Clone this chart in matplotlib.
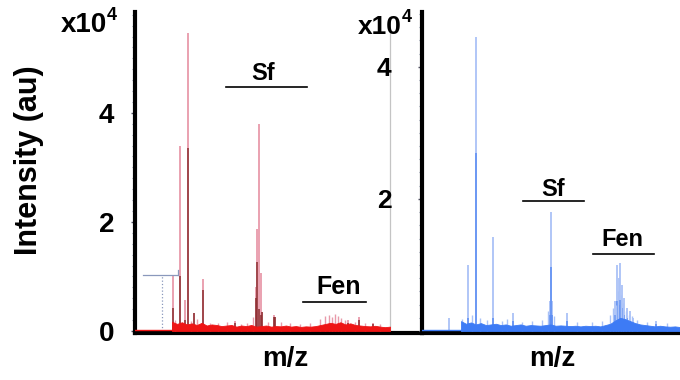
import matplotlib.pyplot as plt
import numpy as np
from matplotlib.ticker import MultipleLocator

plt.rcParams["font.family"] = ["Liberation Sans", "DejaVu Sans"]
plt.rcParams["font.weight"] = "bold"

# left spectrum (red), intensities in counts, m/z in arbitrary units
left_peak_mz = [880, 950, 1000, 1030, 1090, 1180, 1500, 1710, 1720, 1740, 1760, 1770, 1890, 1900, 2630, 2740, 2880]
left_peak_top = [10000, 33900, 5700, 54600, 3300, 9600, 1800, 8000, 18700, 38000, 10700, 3500, 3000, 2600, 2000, 2600, 1500]
left_peak_core = [4300, 10000, 2000, 33500, 3300, 7600, 1500, 6000, 12600, 4000, 3000, 3500, 2500, 2600, 1500, 2000, 1200]
left_noise = [1700, 1300, 1600, 1200, 1400, 1100, 1500, 1000, 1200, 1100, 900, 1000, 1100, 800, 1000,
              900, 1100, 800, 900, 1000, 800, 900, 850, 1000, 800, 900, 750, 850, 800, 900,
              1100, 1300, 1500, 1300, 1600, 1200, 1400, 1100, 1000, 900, 850, 950, 800, 700, 800]
left_noise_range = (870, 3050)
left_spike_mz = [900, 1060, 1120, 1250, 1330, 1420, 1560, 1620, 1680, 1830, 1960, 2050, 2150,
                 2250, 2350, 2400, 2440, 2470, 2500, 2530, 2560, 2600, 2700, 2800, 2950]
left_spike_h = [2000, 1800, 2200, 1500, 1400, 1600, 1300, 1500, 2500, 1600, 1700, 1400, 1300,
                1500, 2200, 2800, 3000, 2600, 3200, 2700, 2400, 2000, 1600, 1400, 1300]
left_bracket_mz = [580, 930]
left_bracket_level = 10200
left_marker_mz = 770

# right spectrum (blue)
right_peak_mz = [770, 960, 1040, 1210, 1410, 1780, 1790, 1800, 1950, 2430, 2450, 2470, 2480, 2500, 2520, 2550, 2580, 2610, 2840]
right_peak_top = [2000, 10000, 44500, 14200, 2700, 4500, 18000, 4500, 2700, 4500, 10000, 8000, 10300, 7000, 5000, 3500, 3000, 2000, 1500]
right_peak_core = [0, 2000, 27000, 2000, 1500, 2500, 9700, 2500, 1500, 2500, 4500, 4000, 4700, 3500, 2500, 2000, 1500, 1200, 1000]
right_noise = [1500, 1100, 1300, 1000, 1200, 900, 1000, 1100, 900, 1000, 800, 900, 1000, 800, 900,
               850, 800, 900, 1000, 800, 850, 800, 750, 800, 700, 800, 750, 800, 700, 900,
               1100, 1600, 2000, 1800, 1500, 1200, 1000, 900, 800, 700, 800, 700, 650, 700, 600]
right_noise_range = (890, 3080)
right_spike_mz = [900, 1000, 1080, 1150, 1300, 1350, 1500, 1600, 1700, 1760, 1820, 2050, 2200,
                  2300, 2380, 2410, 2440, 2460, 2490, 2510, 2540, 2570, 2600, 2650, 2750, 2950]
right_spike_h = [1800, 2500, 2000, 1600, 1500, 1800, 1400, 1500, 1600, 3000, 2200, 1400, 1300,
                 1500, 2500, 3500, 4000, 6000, 5500, 4200, 3000, 2500, 2200, 1700, 1300, 1200]

W, H = 680, 380
fig = plt.figure(figsize=(6.8, 3.8), dpi=100)


def rect(x0, y0, x1, y1):
    return [x0 / W, 1 - y1 / H, (x1 - x0) / W, (y1 - y0) / H]


def style_axes(ax, pad, size):
    for side in ["top", "right"]:
        ax.spines[side].set_visible(False)
    ax.spines["left"].set_linewidth(3)
    ax.spines["bottom"].set_linewidth(3)
    ax.set_xticks([])
    ax.yaxis.set_minor_locator(MultipleLocator(2000))
    ax.tick_params(axis="y", which="major", length=3, width=1, color="#555566",
                   pad=pad, labelsize=size)
    ax.tick_params(axis="y", which="minor", length=2.5, width=0.8, color="#9098b0")
    for lab in ax.get_yticklabels():
        lab.set_fontweight("bold")


def draw_spectrum(ax, mz, top, core, noise, noise_range, spike_mz, spike_h,
                  c_top, c_core, c_noise):
    ax.vlines(mz, 0, top, color=c_top, lw=1.3, zorder=2)
    ax.vlines(mz, 0, core, color=c_core, lw=1.1, zorder=3)
    ax.vlines(spike_mz, 0, spike_h, color=c_top, lw=1.0, zorder=3)
    grid = np.linspace(noise_range[0], noise_range[1], len(noise))
    ax.fill_between(grid, 0, noise, color=c_noise, lw=0.6, zorder=4)
    ax.plot([500, noise_range[0]], [150, 150], color=c_noise, lw=1.0, zorder=4)


# left panel
ax1 = fig.add_axes(rect(135, 12, 422, 333))
ax1.set_xlim(500, 3370)
ax1.set_ylim(-370, 58500)
draw_spectrum(ax1, left_peak_mz, left_peak_top, left_peak_core, left_noise,
              left_noise_range, left_spike_mz, left_spike_h,
              "#e89aaa", "#8c2e30", "#ee1515")
ax1.plot(left_bracket_mz, [left_bracket_level] * 2, color="#8a98bc", lw=0.9)
ax1.plot([left_marker_mz] * 2, [0, left_bracket_level], color="#8a98bc", lw=0.9, ls=":")
ax1.plot([left_bracket_mz[1]] * 2, [left_bracket_level, left_bracket_level + 900],
         color="#8a98bc", lw=0.9)
ax1.axvline(left_noise_range[1], ymin=0.0, ymax=0.94, color="#c4c4c4", lw=0.9)
ax1.set_yticks([0, 20000, 40000], ["0", "2", "4"])
style_axes(ax1, 12, 20)

# right panel
ax2 = fig.add_axes(rect(422, 12, 680, 333))
ax2.set_xlim(500, 3080)
ax2.set_ylim(-300, 48300)
draw_spectrum(ax2, right_peak_mz, right_peak_top, right_peak_core, right_noise,
              right_noise_range, right_spike_mz, right_spike_h,
              "#aac2f7", "#5a8cf2", "#3d7bf5")
ax2.set_yticks([20000, 40000], ["2", "4"])
style_axes(ax2, 19, 19)


def ftext(x, y, s, size, **kw):
    fig.text(x / W, 1 - y / H, s, fontsize=size, fontweight="bold",
             ha="center", va="center", **kw)


def fline(x0, x1, y):
    fig.add_artist(plt.Line2D([x0 / W, x1 / W], [1 - y / H] * 2, color="black", lw=1.2))


ftext(29, 160, "Intensity (au)", 22, rotation=90)
ftext(285, 359, "m/z", 20)
ftext(552, 359, "m/z", 20)

fig.text(107 / W, 1 - 25 / H, "x10", fontsize=20, fontweight="bold", ha="right", va="center")
fig.text(107 / W, 1 - 16 / H, "4", fontsize=13, fontweight="bold", ha="left", va="center")
fig.text(402 / W, 1 - 27 / H, "x10", fontsize=19, fontweight="bold", ha="right", va="center")
fig.text(402 / W, 1 - 18 / H, "4", fontsize=13, fontweight="bold", ha="left", va="center")

ftext(263, 73, "Sf", 17)
fline(226, 307, 87)
ftext(339, 287, "Fen", 18)
fline(303, 366, 302)
ftext(553, 189, "Sf", 17)
fline(523, 584, 201)
ftext(622, 240, "Fen", 17)
fline(593, 654, 254)

fig.savefig("out.png", dpi=100)
